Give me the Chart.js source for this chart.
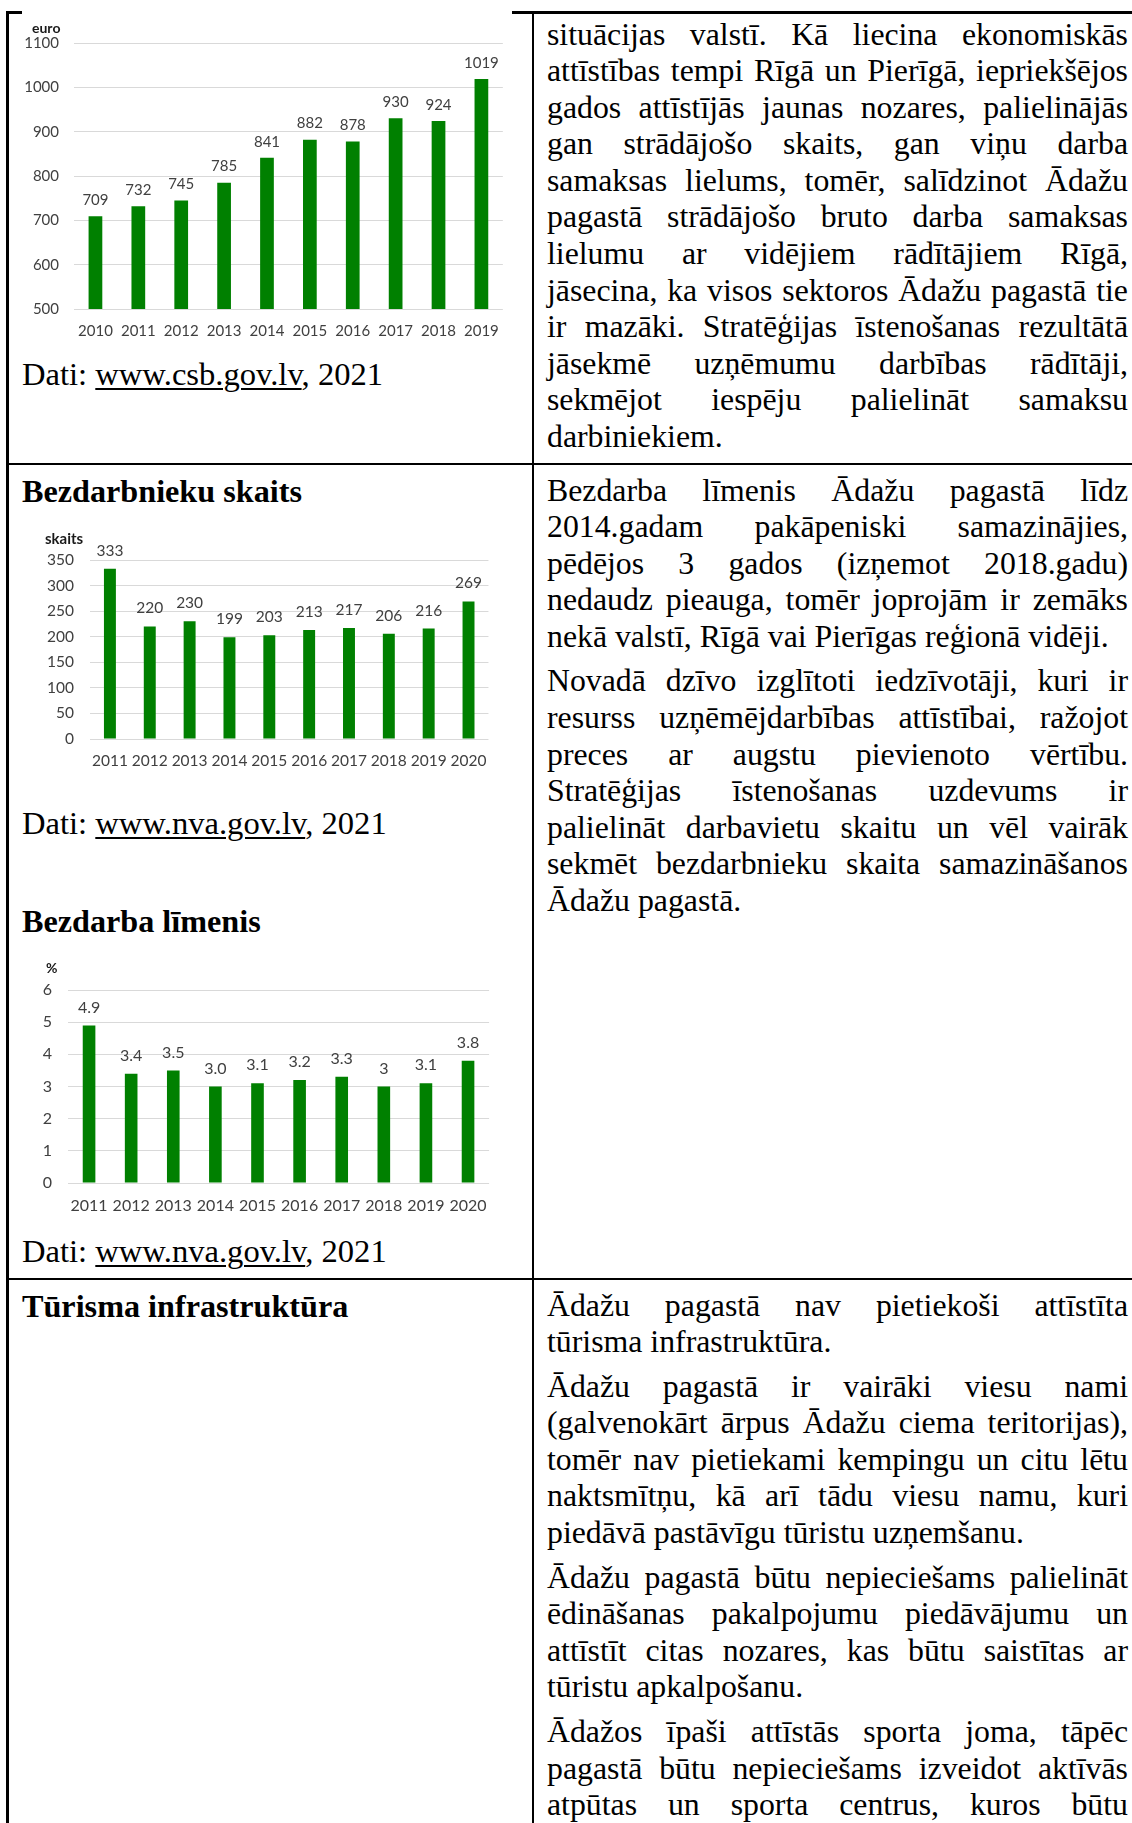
<!DOCTYPE html>
<html lang="lv">
<head>
<meta charset="utf-8">
<title>Ādažu pagasts</title>
<script src="https://cdn.jsdelivr.net/npm/chart.js@4/dist/chart.umd.min.js"></script>
<style>
    html, body { margin: 0; padding: 0; background: #fff; }
    body { width: 1132px; height: 1823px; position: relative; overflow: hidden; }
    .rule { position: absolute; background: #000; }
    .doc { position: absolute; font-family: "Liberation Serif", "Times New Roman", serif; font-size: 31.8px; line-height: 36.6px; color: #000; }
    .col { position: absolute; left: 547px; width: 581px; }
    .col .ln { white-space: nowrap; text-align: justify; text-align-last: justify; }
    .col .last { text-align: left; text-align-last: left; }
    .col .par { margin-bottom: 8px; }
    .left { left: 22px; white-space: nowrap; }
    .left b { font-weight: bold; font-size: 32.2px; }
    .src { font-size: 32.6px; }
    .u { text-decoration: underline; text-underline-offset: 3px; text-decoration-thickness: 2px; }
    .chart-box { position: absolute; background: #fff; }
    .unit { position: absolute; font-family: Lato, "Open Sans", sans-serif; font-weight: bold; color: #1a1a1a; }
</style>
</head>
<body>

<!-- table rules -->
<div class="rule" style="left:6px; top:11px; width:3px; height:1900px;"></div>
<div class="rule" style="left:6px; top:11px; width:1200px; height:3px;"></div>
<div class="rule" style="left:532px; top:11px; width:2px; height:1900px;"></div>
<div class="rule" style="left:6px; top:463px; width:1200px; height:2px;"></div>
<div class="rule" style="left:6px; top:1278px; width:1200px; height:2px;"></div>

<!-- row 1 -->
<div class="chart-box" style="left:22px; top:8px; width:490px; height:335px;">
    <canvas id="wageChart" width="490" height="335"></canvas>
</div>
<div class="unit" style="left:32px; top:20px; font-size:14px; line-height:16px;">euro</div>
<div class="doc left src" style="top:355.5px;">Dati: <span class="u">www.csb.gov.lv</span>, 2021</div>

<div class="doc col" style="top:16.5px;">
    <div class="ln">situācijas valstī. Kā liecina ekonomiskās</div>
    <div class="ln">attīstības tempi Rīgā un Pierīgā, iepriekšējos</div>
    <div class="ln">gados attīstījās jaunas nozares, palielinājās</div>
    <div class="ln">gan strādājošo skaits, gan viņu darba</div>
    <div class="ln">samaksas lielums, tomēr, salīdzinot Ādažu</div>
    <div class="ln">pagastā strādājošo bruto darba samaksas</div>
    <div class="ln">lielumu ar vidējiem rādītājiem Rīgā,</div>
    <div class="ln">jāsecina, ka visos sektoros Ādažu pagastā tie</div>
    <div class="ln">ir mazāki. Stratēģijas īstenošanas rezultātā</div>
    <div class="ln">jāsekmē uzņēmumu darbības rādītāji,</div>
    <div class="ln">sekmējot iespēju palielināt samaksu</div>
    <div class="ln last">darbiniekiem.</div>
</div>

<!-- row 2 -->
<div class="doc left" style="top:472.5px;"><b>Bezdarbnieku skaits</b></div>
<div class="chart-box" style="left:20px; top:510px; width:480px; height:265px;">
    <canvas id="countChart" width="480" height="265"></canvas>
</div>
<div class="unit" style="left:45px; top:530px; font-size:15px; line-height:16px;">skaits</div>
<div class="doc left src" style="top:804.5px;">Dati: <span class="u">www.nva.gov.lv</span>, 2021</div>

<div class="doc left" style="top:902.5px;"><b>Bezdarba līmenis</b></div>
<div class="chart-box" style="left:10px; top:950px; width:490px; height:265px;">
    <canvas id="rateChart" width="490" height="265"></canvas>
</div>
<div class="unit" style="left:46px; top:960px; font-size:14px; line-height:16px;">%</div>
<div class="doc left src" style="top:1233px;">Dati: <span class="u">www.nva.gov.lv</span>, 2021</div>

<div class="doc col" style="top:472.5px;">
    <div class="par">
        <div class="ln">Bezdarba līmenis Ādažu pagastā līdz</div>
        <div class="ln">2014.gadam pakāpeniski samazinājies,</div>
        <div class="ln">pēdējos 3 gados (izņemot 2018.gadu)</div>
        <div class="ln">nedaudz pieauga, tomēr joprojām ir zemāks</div>
        <div class="ln last">nekā valstī, Rīgā vai Pierīgas reģionā vidēji.</div>
    </div>
    <div class="par">
        <div class="ln">Novadā dzīvo izglītoti iedzīvotāji, kuri ir</div>
        <div class="ln">resurss uzņēmējdarbības attīstībai, ražojot</div>
        <div class="ln">preces ar augstu pievienoto vērtību.</div>
        <div class="ln">Stratēģijas īstenošanas uzdevums ir</div>
        <div class="ln">palielināt darbavietu skaitu un vēl vairāk</div>
        <div class="ln">sekmēt bezdarbnieku skaita samazināšanos</div>
        <div class="ln last">Ādažu pagastā.</div>
    </div>
</div>

<!-- row 3 -->
<div class="doc left" style="top:1287.5px;"><b>Tūrisma infrastruktūra</b></div>
<div class="doc col" style="top:1287.5px;">
    <div class="par">
        <div class="ln">Ādažu pagastā nav pietiekoši attīstīta</div>
        <div class="ln last">tūrisma infrastruktūra.</div>
    </div>
    <div class="par">
        <div class="ln">Ādažu pagastā ir vairāki viesu nami</div>
        <div class="ln">(galvenokārt ārpus Ādažu ciema teritorijas),</div>
        <div class="ln">tomēr nav pietiekami kempingu un citu lētu</div>
        <div class="ln">naktsmītņu, kā arī tādu viesu namu, kuri</div>
        <div class="ln last">piedāvā pastāvīgu tūristu uzņemšanu.</div>
    </div>
    <div class="par">
        <div class="ln">Ādažu pagastā būtu nepieciešams palielināt</div>
        <div class="ln">ēdināšanas pakalpojumu piedāvājumu un</div>
        <div class="ln">attīstīt citas nozares, kas būtu saistītas ar</div>
        <div class="ln last">tūristu apkalpošanu.</div>
    </div>
    <div class="par">
        <div class="ln">Ādažos īpaši attīstās sporta joma, tāpēc</div>
        <div class="ln">pagastā būtu nepieciešams izveidot aktīvās</div>
        <div class="ln">atpūtas un sporta centrus, kuros būtu</div>
        <div class="ln">iespējams nodarboties ar dažādiem sporta</div>
    </div>
</div>

<script>
// --- Data ---
const wageYears = ['2010', '2011', '2012', '2013', '2014', '2015', '2016', '2017', '2018', '2019'];
const wageValues = [709, 732, 745, 785, 841, 882, 878, 930, 924, 1019];

const joblessYears = ['2011', '2012', '2013', '2014', '2015', '2016', '2017', '2018', '2019', '2020'];
const joblessCount = [333, 220, 230, 199, 203, 213, 217, 206, 216, 269];

const joblessRate = [4.9, 3.4, 3.5, 3.0, 3.1, 3.2, 3.3, 3.0, 3.1, 3.8];
const joblessRateLabels = ['4.9', '3.4', '3.5', '3.0', '3.1', '3.2', '3.3', '3', '3.1', '3.8'];

const barColor = '#008000';
const textColor = '#404040';
const gridColor = '#d9d9d9';

Chart.defaults.font.family = 'Lato, "Open Sans", sans-serif';
Chart.defaults.color = textColor;

// value printed above each bar
const valueLabels = {
    id: 'valueLabels',
    afterDatasetsDraw(chart, args, opts) {
        const ctx = chart.ctx;
        const meta = chart.getDatasetMeta(0);
        const texts = opts.texts || chart.data.datasets[0].data;
        ctx.save();
        ctx.font = `${opts.size}px ${Chart.defaults.font.family}`;
        ctx.fillStyle = textColor;
        ctx.textAlign = 'center';
        ctx.textBaseline = 'middle';
        meta.data.forEach((bar, i) => {
            ctx.fillText(String(texts[i]), bar.x, bar.y - opts.offset);
        });
        ctx.restore();
    }
};

const makeBarChart = (id, cfg) => {
    const ctx = document.getElementById(id).getContext('2d');
    return new Chart(ctx, {
        type: 'bar',
        data: {
            labels: cfg.labels,
            datasets: [{
                data: cfg.values,
                backgroundColor: barColor,
                borderWidth: 0,
                categoryPercentage: 1,
                barPercentage: cfg.barPct
            }]
        },
        options: {
            responsive: false,
            animation: false,
            layout: { padding: { top: cfg.padTop, right: cfg.padRight, left: 0, bottom: 0 } },
            plugins: {
                legend: { display: false },
                tooltip: { enabled: false },
                valueLabels: { texts: cfg.texts, size: cfg.fontSize, offset: cfg.labelOffset }
            },
            scales: {
                x: {
                    grid: { display: false, drawTicks: false },
                    border: { display: false },
                    ticks: { font: { size: cfg.fontSize }, padding: cfg.xPad, maxRotation: 0, autoSkip: false },
                    afterFit: (scale) => { scale.height = cfg.xHeight; }
                },
                y: {
                    min: cfg.min,
                    max: cfg.max,
                    grid: { color: gridColor, lineWidth: 1, drawTicks: false },
                    border: { display: false },
                    ticks: {
                        stepSize: cfg.step,
                        font: { size: cfg.fontSize },
                        padding: cfg.yPad,
                        callback: (value) => String(value) // no thousands separator
                    },
                    afterFit: (scale) => { scale.width = cfg.yWidth; }
                }
            }
        },
        plugins: [valueLabels]
    });
};

makeBarChart('wageChart', {
    labels: wageYears, values: wageValues, texts: null,
    min: 500, max: 1100, step: 100,
    barPct: 0.32, fontSize: 15, labelOffset: 16,
    padTop: 35, padRight: 4, yWidth: 52, yPad: 15, xHeight: 34, xPad: 13
});

makeBarChart('countChart', {
    labels: joblessYears, values: joblessCount, texts: null,
    min: 0, max: 350, step: 50,
    barPct: 0.3, fontSize: 15.5, labelOffset: 18,
    padTop: 50, padRight: 10, yWidth: 70, yPad: 16, xHeight: 36, xPad: 13
});

makeBarChart('rateChart', {
    labels: joblessYears, values: joblessRate, texts: joblessRateLabels,
    min: 0, max: 6, step: 1,
    barPct: 0.3, fontSize: 16, labelOffset: 18,
    padTop: 40, padRight: 8, yWidth: 58, yPad: 16, xHeight: 32, xPad: 13
});
</script>
</body>
</html>
